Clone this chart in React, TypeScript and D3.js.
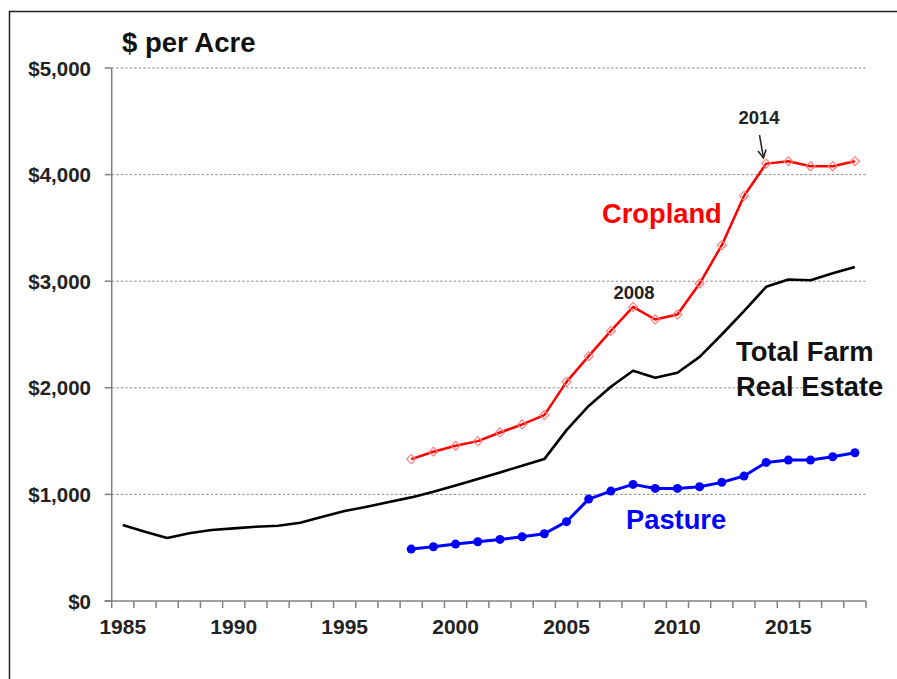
import React from "react";
import * as d3 from "d3";

const years: number[] = d3.range(1985, 2019);
const totalFarm: number[] = [
  713, 650, 591, 635, 666, 681, 697, 706, 734, 790, 844, 884, 928, 972, 1025,
  1084, 1144, 1206, 1269, 1331, 1603, 1830, 2010, 2160, 2094, 2141, 2290, 2500,
  2720, 2947, 3016, 3009, 3075, 3134,
];
const croplandYears: number[] = d3.range(1998, 2019);
const cropland: number[] = [
  1331, 1400, 1456, 1500, 1581, 1656, 1744, 2056, 2297, 2534, 2759, 2641, 2688,
  2978, 3338, 3800, 4103, 4125, 4078, 4078, 4125,
];
const pasture: number[] = [
  487, 509, 534, 556, 578, 603, 631, 744, 956, 1031, 1094, 1056, 1056, 1072,
  1113, 1172, 1300, 1322, 1322, 1353, 1391,
];
const yTicks: number[] = [0, 1000, 2000, 3000, 4000, 5000];
const xLabelYears: number[] = [1985, 1990, 1995, 2000, 2005, 2010, 2015];

const FONT = "'Liberation Sans', Arial, sans-serif";

export default function App() {
  const W = 897;
  const H = 679;
  const x0 = 111.7;
  const x1 = 866;
  const yBottom = 601;
  const yTop = 68;

  const x = d3.scaleBand<number>().domain(years).range([x0, x1]).padding(0);
  const bw = x.bandwidth();
  const cx = (yr: number) => (x(yr) as number) + bw / 2;
  const y = d3.scaleLinear().domain([0, 5000]).range([yBottom, yTop]);

  const line = d3
    .line<[number, number]>()
    .x((d) => cx(d[0]))
    .y((d) => y(d[1]));

  const totalPts: [number, number][] = years.map((yr, i) => [yr, totalFarm[i]]);
  const cropPts: [number, number][] = croplandYears.map((yr, i) => [yr, cropland[i]]);
  const pastPts: [number, number][] = croplandYears.map((yr, i) => [yr, pasture[i]]);

  const boundaries = d3.range(years.length + 1).map((i) => x0 + i * bw);

  const d = 4.5;
  return (
    <svg
      width={W}
      height={H}
      style={{ position: "absolute", left: 0, top: 0, background: "#fff" }}
      fontFamily={FONT}
    >
      <rect x={0} y={0} width={W} height={H} fill="#fff" />
      {/* frame */}
      <line x1={9.5} y1={11} x2={9.5} y2={H} stroke="#222" strokeWidth={1.5} />
      <line x1={9} y1={11.5} x2={W} y2={11.5} stroke="#222" strokeWidth={1.5} />

      {/* gridlines */}
      {yTicks
        .filter((t) => t > 0)
        .map((t) => (
          <line
            key={"g" + t}
            x1={x0}
            x2={x1}
            y1={y(t)}
            y2={y(t)}
            stroke="#8a8a8a"
            strokeWidth={1}
            strokeDasharray="2.5,2"
          />
        ))}

      {/* y axis */}
      <line x1={x0} x2={x0} y1={yTop} y2={yBottom} stroke="#808080" strokeWidth={1.5} />
      {yTicks.map((t) => (
        <g key={"yt" + t}>
          <line x1={x0 - 7} x2={x0} y1={y(t)} y2={y(t)} stroke="#808080" strokeWidth={1.5} />
          <text
            x={91}
            y={y(t)}
            textAnchor="end"
            dominantBaseline="central"
            fontSize={20.5}
            fontWeight="bold"
            fill="#222"
          >
            {d3.format("$,")(t)}
          </text>
        </g>
      ))}

      {/* x axis */}
      <line x1={x0 - 7} x2={x1} y1={yBottom} y2={yBottom} stroke="#808080" strokeWidth={1.5} />
      {boundaries.map((b, i) => (
        <line key={"xt" + i} x1={b} x2={b} y1={yBottom} y2={yBottom + 7} stroke="#808080" strokeWidth={1.5} />
      ))}
      {xLabelYears.map((yr) => (
        <text
          key={"xl" + yr}
          x={cx(yr)}
          y={634}
          textAnchor="middle"
          fontSize={21}
          fontWeight="bold"
          fill="#222"
        >
          {yr}
        </text>
      ))}

      {/* series */}
      <path d={line(totalPts) as string} fill="none" stroke="#000" strokeWidth={2.6} strokeLinejoin="round" />
      <path d={line(cropPts) as string} fill="none" stroke="#ff0000" strokeWidth={2.5} strokeLinejoin="round" />
      {cropPts.map((p, i) => (
        <path
          key={"cm" + i}
          d={`M${cx(p[0])},${y(p[1]) - d}L${cx(p[0]) + d},${y(p[1])}L${cx(p[0])},${y(p[1]) + d}L${cx(p[0]) - d},${y(p[1])}Z`}
          fill="none"
          stroke="#ff8080"
          strokeWidth={1.2}
        />
      ))}
      <path d={line(pastPts) as string} fill="none" stroke="#0000ff" strokeWidth={3} strokeLinejoin="round" />
      {pastPts.map((p, i) => (
        <circle key={"pm" + i} cx={cx(p[0])} cy={y(p[1])} r={4.5} fill="#0000ff" />
      ))}

      {/* labels */}
      <text x={122} y={52} fontSize={27.5} fontWeight="bold" fill="#111">$ per Acre</text>
      <text x={602} y={223} fontSize={27.3} fontWeight="bold" fill="#ff0000">Cropland</text>
      <text x={736} y={361} fontSize={27.3} fontWeight="bold" fill="#111">Total Farm</text>
      <text x={736} y={396} fontSize={27.3} fontWeight="bold" fill="#111">Real Estate</text>
      <text x={626} y={529} fontSize={27.3} fontWeight="bold" fill="#0000ff">Pasture</text>
      <text x={634} y={299} fontSize={18.5} fontWeight="bold" fill="#222" textAnchor="middle">2008</text>
      <text x={759} y={124} fontSize={18.5} fontWeight="bold" fill="#222" textAnchor="middle">2014</text>
      {/* arrow */}
      <line x1={759.5} y1={135} x2={763.5} y2={158} stroke="#222" strokeWidth={1.5} />
      <path d="M758,151 L763.5,158 L766,149.5" fill="none" stroke="#222" strokeWidth={1.5} />
    </svg>
  );
}
